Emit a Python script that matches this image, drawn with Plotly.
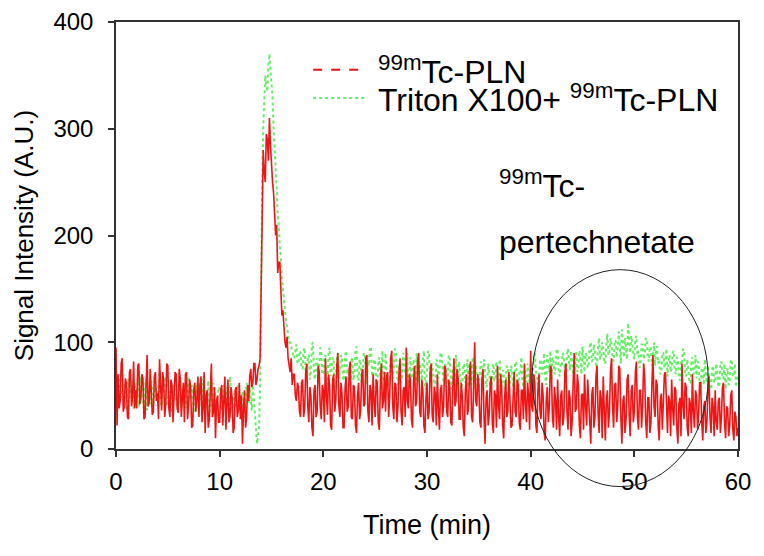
import plotly.graph_objects as go

# 99mTc-PLN signal (A.U.), one value every 0.1 min
red_signal = [
    95, 22, 70, 38, 45, 80, 85, 35, 40, 66, 62, 30, 28, 72, 75, 40, 50, 82, 38, 55,
    38, 78, 80, 42, 48, 70, 66, 28, 30, 62, 88, 40, 44, 75, 58, 32, 35, 68, 72, 45,
    52, 28, 84, 50, 36, 72, 64, 30, 42, 80, 78, 38, 30, 65, 60, 25, 46, 72, 70, 38,
    34, 75, 66, 30, 48, 62, 25, 70, 72, 28, 40, 65, 58, 20, 22, 55, 62, 35, 45, 68,
    30, 60, 68, 25, 38, 72, 15, 50, 55, 20, 28, 62, 80, 30, 35, 58, 10, 45, 50, 25,
    25, 55, 60, 22, 40, 68, 18, 42, 65, 25, 32, 58, 48, 15, 20, 55, 58, 30, 36, 62,
    28, 50, 5, 38, 55, 20, 30, 60, 45, 68, 75, 58, 62, 80, 80, 60, 65, 75, 78, 85,
    150, 230, 280, 260, 250, 295, 290, 270, 310, 285, 265, 250, 240, 225, 200, 210, 165, 175, 175, 150,
    125, 130, 110, 100, 95, 105, 85, 80, 72, 85, 60, 70, 70, 50, 45, 62, 58, 35, 30, 62,
    65, 30, 38, 72, 80, 40, 25, 58, 50, 20, 12, 55, 60, 30, 35, 78, 72, 40, 28, 60,
    55, 25, 85, 50, 32, 70, 60, 22, 18, 65, 70, 35, 45, 78, 90, 40, 30, 62, 52, 20,
    20, 58, 68, 35, 40, 75, 82, 30, 28, 60, 58, 22, 15, 50, 62, 28, 36, 70, 75, 40,
    42, 85, 88, 35, 25, 60, 55, 22, 70, 45, 30, 65, 62, 25, 18, 58, 80, 38, 45, 72,
    35, 68, 72, 30, 50, 85, 92, 40, 28, 62, 60, 25, 40, 72, 85, 35, 22, 55, 58, 30,
    95, 45, 38, 70, 65, 28, 20, 62, 78, 40, 45, 82, 90, 35, 30, 65, 55, 22, 15, 48,
    62, 28, 35, 72, 80, 32, 25, 58, 52, 22, 70, 38, 18, 55, 60, 30, 40, 78, 75, 35,
    30, 65, 58, 25, 22, 60, 85, 40, 45, 75, 65, 28, 28, 62, 50, 20, 12, 55, 70, 32,
    38, 72, 82, 30, 25, 58, 100, 45, 40, 70, 60, 25, 20, 65, 75, 30, 5, 48, 55, 22,
    32, 62, 68, 25, 15, 55, 50, 20, 78, 40, 28, 70, 58, 22, 10, 50, 65, 30, 35, 72,
    48, 20, 22, 60, 72, 35, 30, 65, 60, 25, 18, 55, 55, 28, 80, 42, 25, 62, 50, 18,
    92, 40, 35, 70, 62, 22, 15, 55, 70, 35, 28, 62, 50, 15, 8, 45, 58, 25, 40, 78,
    75, 30, 20, 58, 45, 18, 65, 30, 12, 50, 55, 22, 30, 72, 80, 35, 18, 55, 48, 12,
    25, 62, 90, 35, 38, 70, 60, 22, 10, 50, 52, 18, 70, 40, 22, 65, 45, 15, 5, 52,
    58, 20, 30, 68, 78, 35, 15, 55, 48, 10, 68, 38, 8, 45, 55, 20, 35, 72, 85, 40,
    20, 60, 62, 25, 40, 78, 75, 30, 5, 45, 50, 15, 28, 65, 70, 32, 12, 55, 60, 25,
    35, 72, 82, 30, 18, 55, 55, 20, 42, 80, 68, 25, 10, 48, 48, 15, 25, 62, 88, 40,
    30, 65, 60, 22, 8, 45, 52, 18, 38, 70, 72, 30, 15, 50, 45, 12, 65, 38, 22, 58,
    55, 20, 5, 42, 48, 12, 80, 40, 28, 62, 58, 20, 12, 48, 42, 15, 70, 35, 20, 55,
    50, 18, 32, 62, 62, 25, 8, 40, 45, 15, 25, 55, 68, 30, 15, 48, 40, 12, 55, 25,
    18, 45, 48, 15, 30, 58, 62, 25, 10, 40, 38, 12, 22, 50, 55, 18, 8, 35, 30, 12,
    20,
]

# Triton X100 + 99mTc-PLN signal (A.U.), one value every 0.1 min
green_signal = [
    60, 45, 42, 66, 70, 50, 48, 62, 58, 40, 38, 55, 66, 48, 50, 60, 44, 38, 62, 52,
    52, 64, 40, 48, 68, 55, 46, 36, 60, 66, 36, 50, 55, 42, 64, 58, 42, 50, 58, 46,
    48, 60, 70, 44, 40, 52, 56, 68, 62, 40, 44, 54, 52, 34, 36, 58, 60, 46, 50, 40,
    42, 58, 64, 38, 48, 60, 56, 42, 38, 54, 68, 50, 46, 60, 54, 36, 34, 52, 60, 44,
    50, 62, 40, 34, 66, 52, 44, 38, 58, 64, 32, 46, 52, 40, 62, 56, 38, 30, 48, 58,
    56, 42, 36, 50, 60, 44, 42, 58, 50, 36, 68, 54, 34, 46, 52, 40, 44, 60, 58, 38,
    38, 50, 54, 30, 30, 48, 62, 44, 42, 58, 48, 36, 60, 45, 35, 20, 5, 12, 20, 60,
    180, 250, 300, 330, 350, 340, 335, 360, 370, 355, 345, 330, 300, 285, 260, 245, 220, 210, 190, 180,
    160, 150, 135, 125, 120, 115, 108, 100, 100, 95, 92, 88, 85, 95, 98, 80, 80, 92, 90, 76,
    75, 92, 95, 70, 68, 86, 88, 65, 72, 98, 100, 70, 65, 82, 85, 62, 78, 95, 92, 70,
    70, 85, 88, 60, 62, 90, 95, 68, 74, 86, 82, 58, 60, 84, 90, 66, 72, 88, 84, 64,
    66, 88, 92, 70, 75, 60, 58, 82, 86, 64, 70, 92, 96, 68, 64, 84, 80, 62, 72, 90,
    88, 66, 60, 82, 78, 96, 94, 70, 68, 84, 82, 60, 58, 80, 86, 66, 74, 92, 66, 60,
    90, 72, 70, 60, 62, 86, 84, 66, 76, 94, 92, 70, 60, 78, 80, 62, 68, 90, 88, 70,
    72, 90, 58, 62, 86, 70, 66, 84, 78, 60, 90, 72, 62, 80, 74, 64, 84, 92, 60, 56,
    76, 92, 88, 66, 64, 80, 70, 58, 58, 84, 82, 66, 72, 90, 90, 70, 62, 80, 78, 60,
    68, 88, 84, 62, 56, 76, 74, 58, 88, 70, 64, 82, 72, 56, 60, 78, 80, 62, 66, 84,
    58, 80, 76, 60, 86, 68, 62, 78, 70, 56, 54, 74, 82, 66, 68, 84, 74, 58, 60, 80,
    72, 58, 56, 74, 80, 64, 64, 82, 68, 58, 84, 70, 58, 74, 70, 56, 62, 78, 76, 60,
    60, 78, 74, 58, 66, 80, 82, 64, 56, 72, 70, 86, 64, 58, 78, 66, 62, 80, 72, 60,
    80, 64, 66, 88, 90, 72, 70, 60, 62, 82, 84, 70, 74, 90, 68, 60, 88, 76, 72, 92,
    64, 86, 82, 70, 76, 94, 92, 72, 68, 80, 78, 90, 86, 74, 70, 88, 94, 80, 74, 92,
    82, 70, 68, 90, 90, 72, 76, 92, 84, 70, 96, 80, 72, 90, 88, 76, 80, 96, 100, 82,
    84, 98, 92, 78, 76, 96, 104, 84, 86, 100, 96, 82, 80, 98, 108, 88, 90, 104, 98, 84,
    82, 100, 102, 86, 94, 110, 88, 80, 112, 94, 86, 104, 96, 84, 118, 98, 90, 106, 100, 88,
    84, 102, 106, 88, 92, 76, 80, 98, 98, 84, 88, 104, 102, 86, 82, 96, 94, 78, 86, 100,
    78, 94, 96, 80, 84, 70, 72, 90, 90, 76, 80, 94, 68, 82, 88, 72, 76, 90, 92, 74,
    70, 86, 84, 66, 64, 82, 80, 94, 90, 72, 68, 84, 76, 62, 62, 80, 86, 70, 72, 88,
    66, 82, 80, 62, 58, 76, 74, 60, 84, 70, 62, 78, 70, 56, 56, 74, 78, 62, 64, 80,
    72, 58, 60, 80, 82, 66, 66, 80, 56, 70, 76, 60, 62, 82, 84, 68, 68, 80, 58, 66,
    70,
]

# Time grid (min) matching the samples above
time_min = [round(i * 0.1, 1) for i in range(len(red_signal))]

x_ticks = [0, 10, 20, 30, 40, 50, 60]
y_ticks = [0, 100, 200, 300, 400]

series_names = ["<sup>99m</sup>Tc-PLN", "Triton X100+ <sup>99m</sup>Tc-PLN"]
RED = "rgb(240,20,20)"
GREEN = "rgb(100,238,100)"

FONT = "Liberation Sans, Arial, sans-serif"

fig = go.Figure()
fig.add_trace(go.Scatter(
    x=time_min, y=green_signal, mode="lines", name=series_names[1],
    line=dict(color=GREEN, width=2.0, dash="dot"), showlegend=False,
))
fig.add_trace(go.Scatter(
    x=time_min, y=red_signal, mode="lines", name=series_names[0],
    line=dict(color=RED, width=1.6), showlegend=False,
))

axis_common = dict(
    showline=True, linecolor="#333", linewidth=1.5, mirror=True,
    ticks="outside", ticklen=6, tickwidth=1.5, tickcolor="#333",
    showgrid=False, zeroline=False, automargin=False,
    tickfont=dict(family=FONT, size=24, color="black"),
)

# page body has an 8px margin, so the figure is offset by 8px
fig.update_layout(
    width=756, height=548,
    margin=dict(l=108, r=26, t=14, b=107, autoexpand=False),
    paper_bgcolor="white", plot_bgcolor="white",
    font=dict(family=FONT, color="black"),
    xaxis=dict(range=[0, 60], tickvals=x_ticks, ticklabelstandoff=4,
               title=dict(text="Time (min)", font=dict(size=27), standoff=22),
               **axis_common),
    yaxis=dict(range=[0, 400], tickvals=y_ticks, ticklabelstandoff=10,
               title=dict(text="Signal Intensity (A.U.)", font=dict(size=26), standoff=12),
               **axis_common),
    showlegend=False,
)

# legend (drawn manually to keep its compact row spacing)
legend_rows = [(0.888, RED, "dash", series_names[0]),
               (0.822, GREEN, "dot", series_names[1])]
for ypos, col, dash, label in legend_rows:
    fig.add_shape(type="line", xref="paper", yref="paper",
                  x0=0.317, x1=0.400, y0=ypos, y1=ypos,
                  line=dict(color=col, width=2, dash=dash))
    fig.add_annotation(xref="paper", yref="paper", x=0.418, y=ypos,
                       xanchor="left", yanchor="middle", showarrow=False,
                       text=label, font=dict(size=32, family=FONT))

fig.add_annotation(xref="paper", yref="paper", x=0.6125, y=0.62,
                   xanchor="left", yanchor="middle", showarrow=False,
                   text="<sup>99m</sup>Tc-", font=dict(size=32, family=FONT))
fig.add_annotation(xref="paper", yref="paper", x=0.6125, y=0.485,
                   xanchor="left", yanchor="middle", showarrow=False,
                   text="pertechnetate", font=dict(size=32, family=FONT))

fig.add_shape(type="circle", xref="paper", yref="paper",
              x0=0.669, x1=0.952, y0=-0.088, y1=0.42,
              line=dict(color="#222", width=1), layer="above")

fig.write_html("out.html")
